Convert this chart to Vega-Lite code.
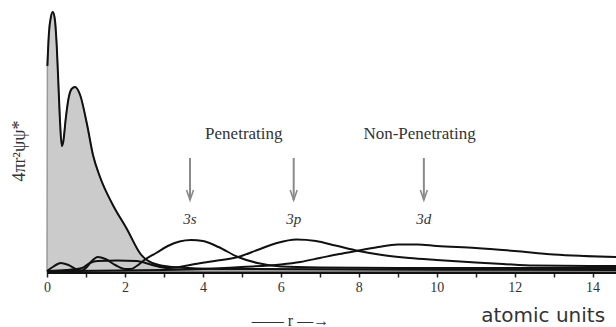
{
  "$schema": "https://vega.github.io/schema/vega-lite/v6.json",
  "width": 569,
  "height": 263,
  "autosize": "none",
  "padding": {"left": 47, "top": 8, "right": 0, "bottom": 56},
  "background": "white",
  "config": {"view": {"stroke": null}},
  "datasets": {
    "curves": [
      {"s": "core", "r": 0, "v": 0},
      {"s": "core", "r": 0.01, "v": 205},
      {"s": "core", "r": 0.05, "v": 238},
      {"s": "core", "r": 0.1, "v": 254},
      {"s": "core", "r": 0.15, "v": 259},
      {"s": "core", "r": 0.2, "v": 252},
      {"s": "core", "r": 0.25, "v": 225},
      {"s": "core", "r": 0.3, "v": 180},
      {"s": "core", "r": 0.34, "v": 145},
      {"s": "core", "r": 0.38, "v": 125},
      {"s": "core", "r": 0.42, "v": 130},
      {"s": "core", "r": 0.48, "v": 152},
      {"s": "core", "r": 0.55, "v": 172},
      {"s": "core", "r": 0.63, "v": 182},
      {"s": "core", "r": 0.72, "v": 184},
      {"s": "core", "r": 0.85, "v": 176},
      {"s": "core", "r": 1.03, "v": 146},
      {"s": "core", "r": 1.18, "v": 116},
      {"s": "core", "r": 1.36, "v": 94},
      {"s": "core", "r": 1.69, "v": 66},
      {"s": "core", "r": 2.05, "v": 42},
      {"s": "core", "r": 2.4, "v": 17},
      {"s": "core", "r": 2.7, "v": 8},
      {"s": "core", "r": 3.2, "v": 4},
      {"s": "core", "r": 4.5, "v": 2},
      {"s": "core", "r": 14.6, "v": 1},
      {"s": "3s", "r": 0, "v": 0},
      {"s": "3s", "r": 0.15, "v": 4},
      {"s": "3s", "r": 0.35, "v": 8},
      {"s": "3s", "r": 0.55, "v": 6},
      {"s": "3s", "r": 0.8, "v": 1},
      {"s": "3s", "r": 0.9, "v": 0.5},
      {"s": "3s", "r": 1.0, "v": 3},
      {"s": "3s", "r": 1.15, "v": 10},
      {"s": "3s", "r": 1.3, "v": 14},
      {"s": "3s", "r": 1.5, "v": 12},
      {"s": "3s", "r": 1.75, "v": 6},
      {"s": "3s", "r": 2.0, "v": 2},
      {"s": "3s", "r": 2.15, "v": 2},
      {"s": "3s", "r": 2.3, "v": 5},
      {"s": "3s", "r": 2.5, "v": 11},
      {"s": "3s", "r": 2.8, "v": 18},
      {"s": "3s", "r": 3.1, "v": 25},
      {"s": "3s", "r": 3.4, "v": 29.5},
      {"s": "3s", "r": 3.7, "v": 31},
      {"s": "3s", "r": 4.0, "v": 30},
      {"s": "3s", "r": 4.4, "v": 24},
      {"s": "3s", "r": 4.9, "v": 14},
      {"s": "3s", "r": 5.4, "v": 8},
      {"s": "3s", "r": 6.0, "v": 4.5},
      {"s": "3s", "r": 7.0, "v": 3.5},
      {"s": "3s", "r": 9.0, "v": 3},
      {"s": "3s", "r": 14.6, "v": 3},
      {"s": "3p", "r": 0, "v": 0},
      {"s": "3p", "r": 0.5, "v": 1},
      {"s": "3p", "r": 0.9, "v": 3},
      {"s": "3p", "r": 1.1, "v": 8},
      {"s": "3p", "r": 1.3, "v": 10},
      {"s": "3p", "r": 1.8, "v": 10.5},
      {"s": "3p", "r": 2.3, "v": 10},
      {"s": "3p", "r": 2.7, "v": 6},
      {"s": "3p", "r": 3.1, "v": 3},
      {"s": "3p", "r": 3.4, "v": 4},
      {"s": "3p", "r": 3.8, "v": 7},
      {"s": "3p", "r": 4.3, "v": 10},
      {"s": "3p", "r": 4.9, "v": 14},
      {"s": "3p", "r": 5.4, "v": 21},
      {"s": "3p", "r": 5.9, "v": 28},
      {"s": "3p", "r": 6.4, "v": 31.5},
      {"s": "3p", "r": 6.9, "v": 30},
      {"s": "3p", "r": 7.4, "v": 25.5},
      {"s": "3p", "r": 8.0, "v": 20},
      {"s": "3p", "r": 8.6, "v": 16},
      {"s": "3p", "r": 9.3, "v": 13},
      {"s": "3p", "r": 10.0, "v": 11},
      {"s": "3p", "r": 11.0, "v": 8.5},
      {"s": "3p", "r": 11.7, "v": 7},
      {"s": "3p", "r": 12.5, "v": 5.5},
      {"s": "3p", "r": 14.6, "v": 5},
      {"s": "3d", "r": 0, "v": 0},
      {"s": "3d", "r": 3, "v": 1},
      {"s": "3d", "r": 4, "v": 2},
      {"s": "3d", "r": 5, "v": 4},
      {"s": "3d", "r": 6, "v": 6.5},
      {"s": "3d", "r": 6.5, "v": 9},
      {"s": "3d", "r": 7, "v": 13},
      {"s": "3d", "r": 7.5, "v": 17},
      {"s": "3d", "r": 8, "v": 20.5},
      {"s": "3d", "r": 8.5, "v": 24},
      {"s": "3d", "r": 9, "v": 26.5},
      {"s": "3d", "r": 9.5, "v": 26.5},
      {"s": "3d", "r": 10, "v": 25},
      {"s": "3d", "r": 11, "v": 23},
      {"s": "3d", "r": 12, "v": 20},
      {"s": "3d", "r": 13, "v": 16.5},
      {"s": "3d", "r": 14.6, "v": 14}
    ],
    "arrows": [
      {"r": 3.67, "top": 113, "bot": 71, "lab": "3s", "lv": 52},
      {"r": 6.33, "top": 113, "bot": 71, "lab": "3p", "lv": 52},
      {"r": 9.67, "top": 113, "bot": 71, "lab": "3d", "lv": 52}
    ],
    "heads": [
      {"r": 5.05, "v": 137, "t": "Penetrating"},
      {"r": 9.56, "v": 137, "t": "Non-Penetrating"}
    ],
    "units": [
      {"r": 12.73, "v": -45, "t": "atomic units"}
    ],
    "ytitle": [
      {"r": -0.69, "v": 120, "t": "4πr²ψψ*"}
    ]
  },
  "layer": [
    {
      "data": {"name": "curves"},
      "transform": [{"filter": "datum.s == 'core'"}],
      "mark": {"type": "area", "fill": "#cbcbcb", "stroke": "#9a9a9a", "strokeWidth": 1.5, "interpolate": "monotone"},
      "encoding": {
        "x": {"field": "r", "type": "quantitative", "scale": {"domain": [0, 14.6], "nice": false, "zero": false},
          "axis": {"values": [0,1,2,3,4,5,6,7,8,9,10,11,12,13,14], "labelExpr": "datum.value % 2 === 0 ? datum.label : ''",
            "labelFlush": false, "tickSize": 6, "tickWidth": 1.5, "tickColor": "#222", "domainColor": "#111", "domainWidth": 5,
            "labelFont": "Liberation Serif", "labelFontSize": 14, "labelColor": "#333", "labelPadding": 3, "grid": false,
            "title": "—— r —→", "titleFont": "Liberation Serif", "titleFontSize": 16, "titleFontWeight": "normal",
            "titleColor": "#333", "titleX": 243, "titleY": 49, "titleAnchor": "middle", "titleBaseline": "middle"}},
        "y": {"field": "v", "type": "quantitative", "scale": {"domain": [0, 263], "nice": false},
          "axis": null}
      }
    },
    {
      "data": {"name": "curves"},
      "transform": [{"filter": "datum.r > 0 || datum.s != 'core'"}],
      "mark": {"type": "line", "color": "#111", "strokeWidth": 2, "interpolate": "monotone"},
      "encoding": {
        "x": {"field": "r", "type": "quantitative"},
        "y": {"field": "v", "type": "quantitative"},
        "detail": {"field": "s"}
      }
    },
    {
      "data": {"name": "arrows"},
      "mark": {"type": "rule", "color": "#8a8a8a", "strokeWidth": 2},
      "encoding": {
        "x": {"field": "r", "type": "quantitative"},
        "y": {"field": "top", "type": "quantitative"},
        "y2": {"field": "bot"}
      }
    },
    {
      "data": {"name": "arrows"},
      "mark": {"type": "point", "shape": "M-0.7,-2L0,0L0.7,-2", "size": 100, "filled": false, "stroke": "#8a8a8a", "strokeWidth": 1.6, "opacity": 1},
      "encoding": {
        "x": {"field": "r", "type": "quantitative"},
        "y": {"field": "bot", "type": "quantitative"}
      }
    },
    {
      "data": {"name": "arrows"},
      "mark": {"type": "text", "font": "Liberation Serif", "fontStyle": "italic", "fontSize": 15, "color": "#333", "baseline": "middle", "align": "center"},
      "encoding": {
        "x": {"field": "r", "type": "quantitative"},
        "y": {"field": "lv", "type": "quantitative"},
        "text": {"field": "lab"}
      }
    },
    {
      "data": {"name": "heads"},
      "mark": {"type": "text", "font": "Liberation Serif", "fontSize": 17, "letterSpacing": 0.5, "color": "#333", "baseline": "middle", "align": "center"},
      "encoding": {
        "x": {"field": "r", "type": "quantitative"},
        "y": {"field": "v", "type": "quantitative"},
        "text": {"field": "t"}
      }
    },
    {
      "data": {"name": "ytitle"},
      "mark": {"type": "text", "font": "Liberation Serif", "fontSize": 18, "letterSpacing": 1, "angle": 270, "color": "#333", "baseline": "middle", "align": "center"},
      "encoding": {
        "x": {"field": "r", "type": "quantitative"},
        "y": {"field": "v", "type": "quantitative"},
        "text": {"field": "t"}
      }
    },
    {
      "data": {"name": "units"},
      "mark": {"type": "text", "font": "DejaVu Sans", "fontSize": 20, "letterSpacing": 2, "color": "#333", "baseline": "middle", "align": "center"},
      "encoding": {
        "x": {"field": "r", "type": "quantitative"},
        "y": {"field": "v", "type": "quantitative"},
        "text": {"field": "t"}
      }
    }
  ]
}
